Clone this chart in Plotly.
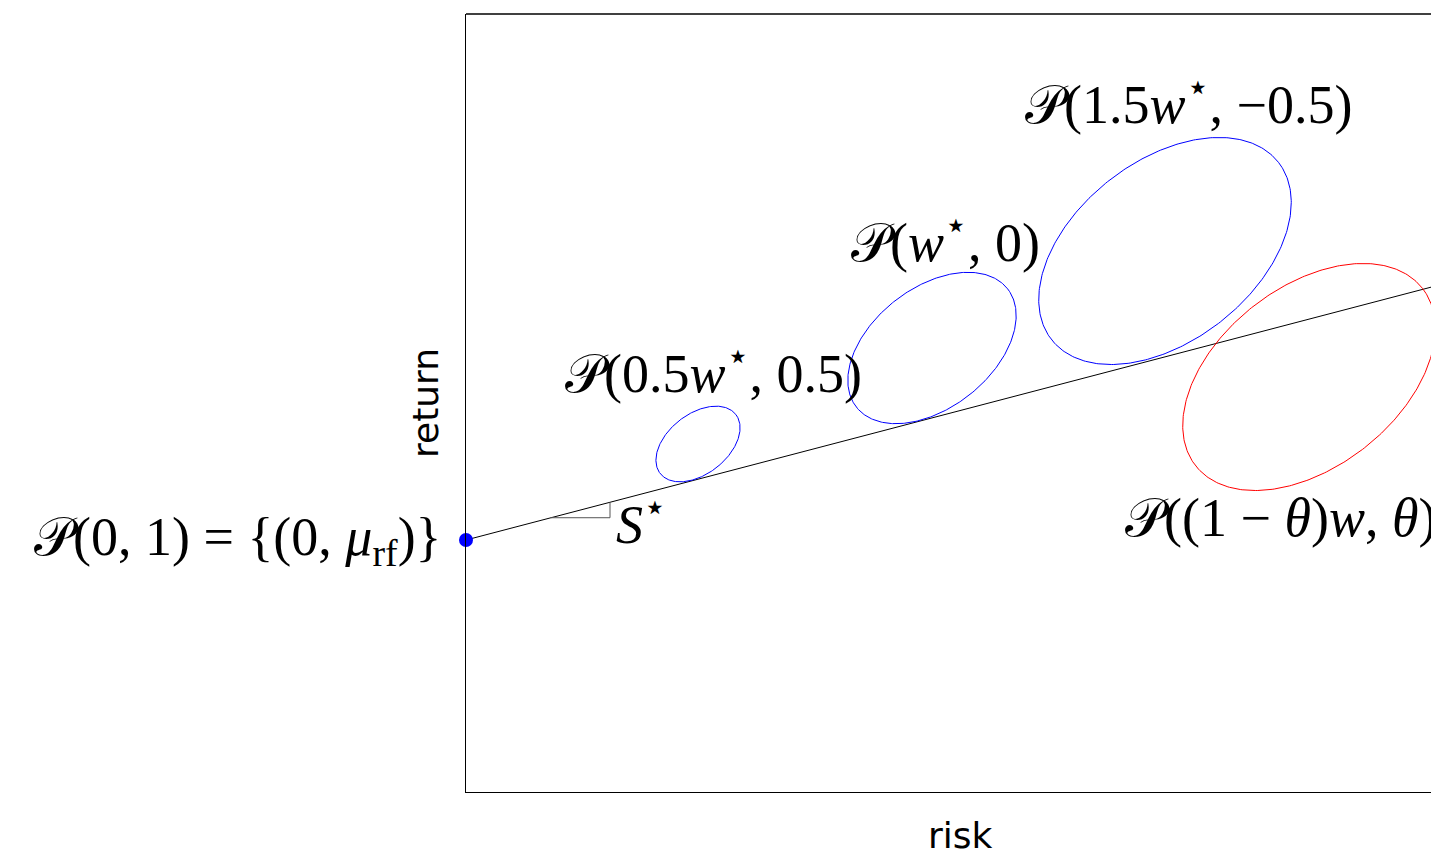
import numpy as np
import plotly.graph_objects as go

# ---- data (axis units: arbitrary risk / return) ----
rf_point = [0.0, 2.52]            # P(0,1) = {(0, mu_rf)}
cml_slope = 0.262                 # S*
cml_x = [0.0, 10.0]

blue_centers_x = [2.32, 4.66, 6.99]
blue_centers_y = [3.48, 4.44, 5.41]
blue_scales = [0.5, 1.0, 1.5]

red_center = [8.43, 4.15]
red_scale = 1.5

base_a, base_b, base_angle_deg = 0.96, 0.60, 38.0   # shape of P(w*, 0)

slope_tri_x = [0.85, 1.44]

X_RANGE = [0, 9.73]
Y_RANGE = [0, 7.78]

labels = [
    ("𝒫(0.5<i>w</i><sup>⋆</sup>, 0.5)", 2.47, 4.23, "center"),
    ("𝒫(<i>w</i><sup>⋆</sup>, 0)", 4.79, 5.54, "center"),
    ("𝒫(1.5<i>w</i><sup>⋆</sup>, −0.5)", 7.22, 6.92, "center"),
    ("𝒫((1 − <i>θ</i>)<i>w</i>, <i>θ</i>)", 9.72, 2.74, "right"),
    ("𝒫(0, 1) = {(0, <i>μ</i><sub>rf</sub>)}", -0.22, 2.52, "right"),
    ("<i>S</i><sup>⋆</sup>", 1.48, 2.72, "left"),
]

MATH_FONT = dict(family="Liberation Serif, DejaVu Serif, serif", size=54, color="black")
SANS_FONT = dict(family="DejaVu Sans, sans-serif", size=36, color="black")


def ellipse(cx, cy, scale):
    t = np.linspace(0, 2 * np.pi, 361)
    a, b = base_a * scale, base_b * scale
    ang = np.deg2rad(base_angle_deg)
    ex = a * np.cos(t)
    ey = b * np.sin(t)
    return cx + ex * np.cos(ang) - ey * np.sin(ang), cy + ex * np.sin(ang) + ey * np.cos(ang)


def to_paper_x(x):
    return (x - X_RANGE[0]) / (X_RANGE[1] - X_RANGE[0])


def to_paper_y(y):
    return (y - Y_RANGE[0]) / (Y_RANGE[1] - Y_RANGE[0])


fig = go.Figure()

# capital market line
cml_y = [rf_point[1] + cml_slope * x for x in cml_x]
fig.add_trace(go.Scatter(x=cml_x, y=cml_y, mode="lines",
                         line=dict(color="black", width=1), hoverinfo="skip"))

# slope triangle
x0, x1 = slope_tri_x
y0 = rf_point[1] + cml_slope * x0
y1 = rf_point[1] + cml_slope * x1
fig.add_trace(go.Scatter(x=[x0, x1, x1], y=[y0, y0, y1], mode="lines",
                         line=dict(color="#555555", width=1), hoverinfo="skip"))

for cx, cy, s in zip(blue_centers_x, blue_centers_y, blue_scales):
    ex, ey = ellipse(cx, cy, s)
    fig.add_trace(go.Scatter(x=ex, y=ey, mode="lines",
                             line=dict(color="#0000ff", width=1), hoverinfo="skip"))

ex, ey = ellipse(red_center[0], red_center[1], red_scale)
fig.add_trace(go.Scatter(x=ex, y=ey, mode="lines",
                         line=dict(color="#ff0000", width=1), hoverinfo="skip"))

fig.add_trace(go.Scatter(x=[rf_point[0]], y=[rf_point[1]], mode="markers",
                         marker=dict(color="#0000ff", size=14), cliponaxis=False,
                         hoverinfo="skip"))

for text, x, y, anchor in labels:
    fig.add_annotation(xref="paper", yref="paper", x=to_paper_x(x), y=to_paper_y(y),
                       text=text, showarrow=False, xanchor=anchor,
                       yanchor="middle", font=MATH_FONT)

# axis titles
fig.add_annotation(xref="paper", yref="paper", x=(960 - 466) / 973, y=-(835 - 792) / 778,
                   text="risk", showarrow=False, xanchor="center", yanchor="middle",
                   font=SANS_FONT)
fig.add_annotation(xref="paper", yref="paper", x=(425 - 466) / 973, y=(792 - 403) / 778,
                   text="return", showarrow=False, textangle=-90, xanchor="center",
                   yanchor="middle", font=SANS_FONT)

# top frame line
fig.add_shape(type="line", xref="paper", yref="paper", x0=0, x1=1, y0=1, y1=1,
              line=dict(color="black", width=1.3))

fig.update_xaxes(range=X_RANGE, showgrid=False, zeroline=False, showticklabels=False,
                 ticks="", showline=True, linecolor="black", linewidth=1.3)
fig.update_yaxes(range=Y_RANGE, showgrid=False, zeroline=False, showticklabels=False,
                 ticks="", showline=True, linecolor="black", linewidth=1.3)

fig.update_layout(width=1431, height=847, showlegend=False,
                  margin=dict(l=458, r=0, t=6, b=63),
                  plot_bgcolor="white", paper_bgcolor="white")

fig.write_html("out.html")
